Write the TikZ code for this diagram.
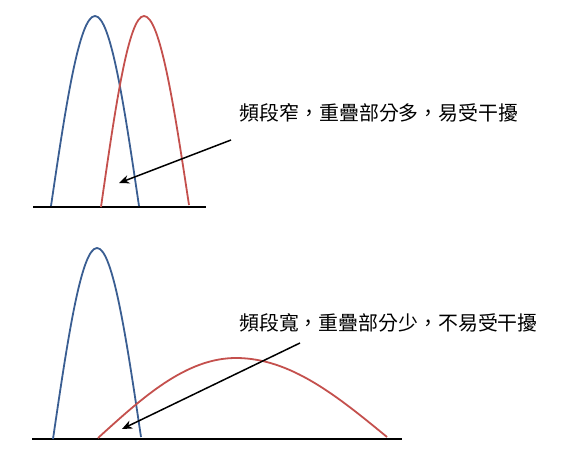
\documentclass[tikz,border=0pt]{standalone}
\usepackage{fontspec}
\newfontfamily\tcfont{Noto Sans CJK TC}
\usetikzlibrary{arrows.meta}
\definecolor{bandblue}{HTML}{3A5E92}
\definecolor{bandred}{HTML}{C4504D}

\begin{document}
\begin{tikzpicture}[
    x=1pt, y=-1pt,
    every node/.style={font=\tcfont\fontsize{19.9}{22}\selectfont},
    note/.style={anchor=west, inner sep=0pt},
    groundline/.style={line width=2pt, black},
    bandA/.style={line width=1.8pt, bandblue},
    bandB/.style={line width=1.8pt, bandred},
    pointer/.style={-{Stealth[length=3.6mm, width=3mm]}, line width=1.5pt}
]
\useasboundingbox (0,0) rectangle (578,474);
\node[note] (narrow) at (239.5,113) {頻段窄，重疊部分多，易受干擾};
\node[note] (wide) at (239,323) {頻段寬，重疊部分少，不易受干擾};
\coordinate (narrowfrom) at (231,140);
\coordinate (narrowto) at (119,183);
\coordinate (widefrom) at (300,343);
\coordinate (wideto) at (122,429);
\draw[groundline] (33,207) -- (206,207);
\draw[bandA] (51,206) sin (95,16) cos (139,206);
\draw[bandB] (101,207) sin (144,16) cos (189,205);
\draw[pointer] (narrowfrom) -- (narrowto);
\draw[groundline] (32,439) -- (402,439);
\draw[bandA] (53,439) sin (97,248) cos (141,437);
\draw[bandB] (98,438) sin (236,358) cos (387,437);
\draw[pointer] (widefrom) -- (wideto);
\end{tikzpicture}
\end{document}
